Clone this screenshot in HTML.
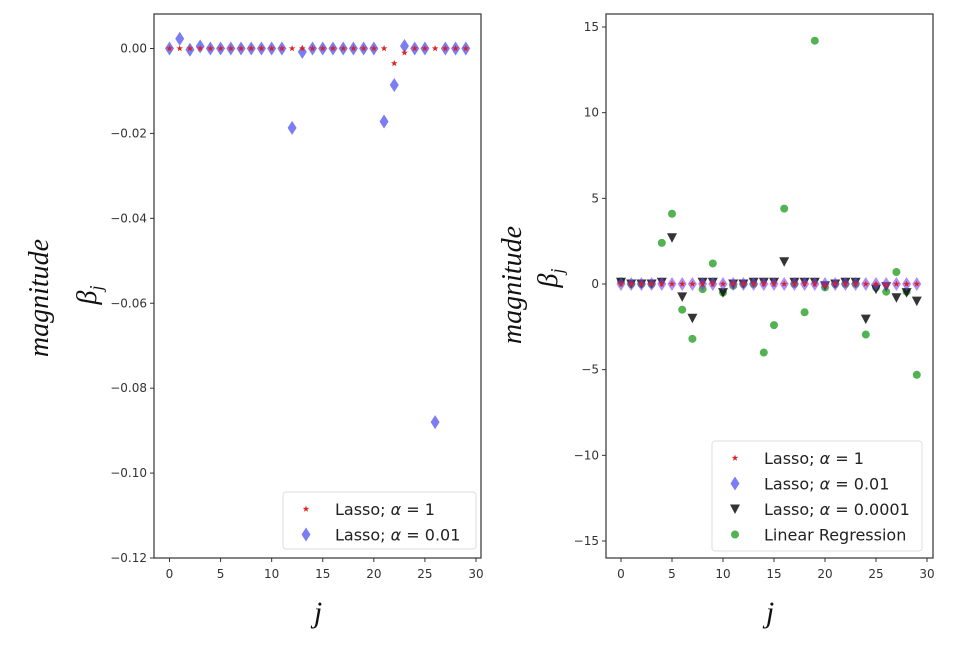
<!DOCTYPE html>
<html><head><meta charset="utf-8"><style>
body{margin:0;background:#fff;}
svg text{font-family:"DejaVu Sans","Liberation Sans",sans-serif;}
.lab{font-family:"Liberation Serif","DejaVu Serif",serif;font-style:italic;}
</style></head><body>
<svg id="chart" width="960" height="646" xmlns="http://www.w3.org/2000/svg"></svg>
<script>
const jIdx = Array.from({length:30},(_,i)=>i);
const leftLasso1 = [0,0,0,0,0,0,0,0,0,0,0,0,0,0,0,0,0,0,0,0,0,0,-0.0035,-0.001,0,0,0,0,0,0];
const leftLasso001 = [0,0.0023,-0.0003,0.0005,0,0,0,0,0,0,0,0,-0.0187,-0.0008,0,0,0,0,0,0,0,-0.0172,-0.0086,0.0006,0,0,-0.088,0,0,0];
const rightLasso1 = [0,0,0,0,0,0,0,0,0,0,0,0,0,0,0,0,0,0,0,0,-0.1,0,0,0,0,0,-0.05,0,0,0];
const rightLasso001 = [0,0,0,0,0,0,0,0,0,0,0,0,0,0,0,0,0,0,0,0,0,0,0,0,0,0,0,0,0,0];
const rightLasso00001 = [0.1,0,0,0,0.1,2.7,-0.75,-2.0,0.1,0.1,-0.5,0,0,0.1,0.1,0.1,1.3,0.1,0.1,0.1,-0.1,0,0.1,0.1,-2.05,-0.3,-0.15,-0.8,-0.5,-1.0];
const rightLinReg = [0.15,0,0,0,2.4,4.1,-1.5,-3.2,-0.3,1.2,-0.5,-0.1,0,0,-4.0,-2.4,4.4,0,-1.65,14.2,-0.2,0,0,0,-2.95,-0.2,-0.45,0.7,-0.45,-5.3];
const leftYTicks = [0,-0.02,-0.04,-0.06,-0.08,-0.10,-0.12];
const leftYLabels = ["0.00","\u22120.02","\u22120.04","\u22120.06","\u22120.08","\u22120.10","\u22120.12"];
const rightYTicks = [15,10,5,0,-5,-10,-15];
const rightYLabels = ["15","10","5","0","\u22125","\u221210","\u221215"];
const xTicks = [0,5,10,15,20,25,30];

const svg=document.getElementById('chart');
const NS='http://www.w3.org/2000/svg';
function mk(tag,attrs,parent){const e=document.createElementNS(NS,tag);for(const k in attrs)e.setAttribute(k,attrs[k]);(parent||svg).appendChild(e);return e;}

function star(g,x,y,r,fill){let p=[];for(let i=0;i<10;i++){const a=-Math.PI/2+i*Math.PI/5;const rr=i%2?r*0.4:r;p.push((x+rr*Math.cos(a)).toFixed(1)+','+(y+rr*Math.sin(a)).toFixed(1));}return mk('polygon',{points:p.join(' '),fill:fill},g);}
function diamond(g,x,y,fill,op){return mk('polygon',{points:`${x},${y-7} ${x+4.5},${y} ${x},${y+7} ${x-4.5},${y}`,fill:fill,'fill-opacity':op},g);}
function tri(g,x,y,fill){return mk('polygon',{points:`${x-5},${y-4.5} ${x+5},${y-4.5} ${x},${y+5}`,fill:fill,'fill-opacity':0.85},g);}
function dot(g,x,y,fill){return mk('circle',{cx:x,cy:y,r:4,fill:fill,'fill-opacity':0.75},g);}

function axes(p){
  const g=mk('g',{});
  
  
  const xs=v=>p.x0+(v-0)*(p.x30-p.x0)/30;
  const ys=v=>p.yA+(v-p.vA)*(p.yB-p.yA)/(p.vB-p.vA);
  mk('rect',{x:p.L,y:p.T,width:p.R-p.L,height:p.B-p.T,fill:'none',stroke:'#333','stroke-width':1.2},g);
  xTicks.forEach(t=>{const x=xs(t);mk('line',{x1:x,y1:p.B,x2:x,y2:p.B+4,stroke:'#333'},g);
    const tx=mk('text',{x:x,y:p.B+20,'text-anchor':'middle','font-size':12,fill:'#333'},g);tx.textContent=t;
    });
  p.yt.forEach((t,i)=>{const y=ys(t);mk('line',{x1:p.L-4,y1:y,x2:p.L,y2:y,stroke:'#333'},g);
    const tx=mk('text',{x:p.L-7,y:y+4,'text-anchor':'end','font-size':12,fill:'#333'},g);tx.textContent=p.yl[i];
    });
  return {g,xs,ys};
}
// Left
const A=axes({name:'left-plot',L:154,R:481,T:14,B:558,x0:169.5,x30:476,yA:48.5,vA:0,yB:558,vB:-0.12,yt:leftYTicks,yl:leftYLabels});
jIdx.forEach(i=>{const m=diamond(A.g,A.xs(i),A.ys(leftLasso001[i]),'#4444ee',0.7);});
jIdx.forEach(i=>{const m=star(A.g,A.xs(i),A.ys(leftLasso1[i]),3.5,'#e02020');});
// Right
const Bx=axes({name:'right-plot',L:606,R:933,T:14,B:558,x0:621,x30:927,yA:284,vA:0,yB:541,vB:-15,yt:rightYTicks,yl:rightYLabels});
jIdx.forEach(i=>{const m=dot(Bx.g,Bx.xs(i),Bx.ys(rightLinReg[i]),'#1a9a1a');});
jIdx.forEach(i=>{const m=tri(Bx.g,Bx.xs(i),Bx.ys(rightLasso00001[i]),'#111');});
jIdx.forEach(i=>{const m=diamond(Bx.g,Bx.xs(i),Bx.ys(rightLasso001[i]),'#7744ee',0.6);});
jIdx.forEach(i=>{const m=star(Bx.g,Bx.xs(i),Bx.ys(rightLasso1[i]),3.5,'#e02020');});

function legend(x,y,w,h,items,name){
  const g=mk('g',{});
  
  
  mk('rect',{x:x,y:y,width:w,height:h,rx:3,fill:'#fff','fill-opacity':0.9,stroke:'#ddd'},g);
  items.forEach((it,i)=>{const cy=y+17+i*25.5;
    if(it.m==='star')star(g,x+23,cy,3.5,'#e02020');
    if(it.m==='dia')diamond(g,x+23,cy,'#4444ee',0.7);
    if(it.m==='tri')tri(g,x+23,cy,'#111');
    if(it.m==='dot')dot(g,x+23,cy,'#1a9a1a');
    const t=mk('text',{x:x+52,y:cy+6,'font-size':16,fill:'#222'},g);t.innerHTML=it.t;});
}
legend(283,492,193,57,[{m:'star',t:'Lasso; <tspan font-style="italic">α</tspan> = 1'},{m:'dia',t:'Lasso; <tspan font-style="italic">α</tspan> = 0.01'}],'left-legend');
legend(712,441,210,110,[{m:'star',t:'Lasso; <tspan font-style="italic">α</tspan> = 1'},{m:'dia',t:'Lasso; <tspan font-style="italic">α</tspan> = 0.01'},{m:'tri',t:'Lasso; <tspan font-style="italic">α</tspan> = 0.0001'},{m:'dot',t:'Linear Regression'}],'right-legend');

function lab(x,y,txt,rot,size,name){const t=mk('text',{x:x,y:y,'text-anchor':'middle','font-size':size,fill:'#111',class:'lab',transform:rot?`rotate(-90 ${x} ${y})`:''});t.innerHTML=txt;}
lab(48,298,'magnitude',true,28,'left-y-title-1');
lab(96,295,'β<tspan font-size="18" dy="6">j</tspan>',true,28,'left-y-title-2');
lab(521,285,'magnitude',true,28,'right-y-title-1');
lab(557,278,'β<tspan font-size="18" dy="6">j</tspan>',true,28,'right-y-title-2');
lab(318,622,'j',false,30,'left-x-title');
lab(770,622,'j',false,30,'right-x-title');
</script>
</body></html>
